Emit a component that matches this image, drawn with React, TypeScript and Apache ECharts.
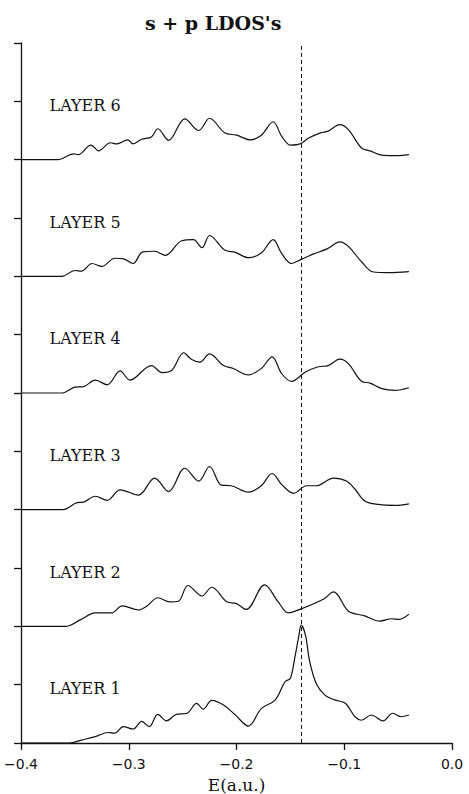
import React, { useEffect, useRef } from "react";
import * as echarts from "echarts";

const xMin = -0.4;
const xMax = 0.0;
const xInterval = 0.1;
const yMax = 12;
const fermiEnergy = -0.14;
const layerNames = ["LAYER 1", "LAYER 2", "LAYER 3", "LAYER 4", "LAYER 5", "LAYER 6"];
const layerOffsets = [0, 2, 4, 6, 8, 10];
const labelE = -0.374;

const layer1: [number, number][] = [
  [-0.4, 0], [-0.355, 0], [-0.344, 0.05], [-0.331, 0.11], [-0.319, 0.18], [-0.313, 0.17],
  [-0.305, 0.28], [-0.296, 0.24], [-0.288, 0.37], [-0.281, 0.28], [-0.273, 0.49], [-0.265, 0.38],
  [-0.256, 0.49], [-0.246, 0.51], [-0.237, 0.68], [-0.231, 0.58], [-0.223, 0.73], [-0.212, 0.65],
  [-0.201, 0.48], [-0.189, 0.29], [-0.177, 0.59], [-0.164, 0.74], [-0.155, 1.05], [-0.15, 1.11],
  [-0.146, 1.45], [-0.142, 1.85], [-0.14, 2.02], [-0.136, 1.85], [-0.132, 1.39], [-0.126, 1.02],
  [-0.118, 0.82], [-0.109, 0.74], [-0.099, 0.68], [-0.09, 0.45], [-0.084, 0.39], [-0.075, 0.48],
  [-0.064, 0.38], [-0.055, 0.51], [-0.047, 0.45], [-0.04, 0.48],
];

const layer2: [number, number][] = [
  [-0.4, 0], [-0.358, 0], [-0.345, 0.11], [-0.331, 0.23], [-0.316, 0.23], [-0.306, 0.35],
  [-0.291, 0.28], [-0.283, 0.35], [-0.273, 0.49], [-0.262, 0.42], [-0.254, 0.43], [-0.245, 0.7],
  [-0.232, 0.52], [-0.223, 0.67], [-0.209, 0.42], [-0.2, 0.39], [-0.191, 0.29], [-0.174, 0.71],
  [-0.161, 0.41], [-0.152, 0.23], [-0.14, 0.3], [-0.119, 0.47], [-0.11, 0.59], [-0.096, 0.26],
  [-0.081, 0.18], [-0.067, 0.09], [-0.056, 0.13], [-0.049, 0.12], [-0.04, 0.21],
];

const layer3: [number, number][] = [
  [-0.4, 0], [-0.361, 0], [-0.348, 0.12], [-0.342, 0.13], [-0.331, 0.23], [-0.32, 0.16],
  [-0.308, 0.34], [-0.291, 0.25], [-0.276, 0.54], [-0.263, 0.31], [-0.248, 0.71], [-0.235, 0.49],
  [-0.225, 0.74], [-0.214, 0.42], [-0.205, 0.41], [-0.189, 0.3], [-0.177, 0.41], [-0.167, 0.62],
  [-0.158, 0.43], [-0.147, 0.28], [-0.135, 0.41], [-0.126, 0.41], [-0.11, 0.54], [-0.098, 0.49],
  [-0.09, 0.35], [-0.081, 0.15], [-0.068, 0.09], [-0.053, 0.074], [-0.04, 0.1],
];

const layer4: [number, number][] = [
  [-0.4, 0], [-0.362, 0], [-0.35, 0.1], [-0.342, 0.11], [-0.331, 0.22], [-0.32, 0.14],
  [-0.308, 0.38], [-0.299, 0.22], [-0.279, 0.47], [-0.269, 0.35], [-0.26, 0.39], [-0.249, 0.69],
  [-0.242, 0.58], [-0.234, 0.53], [-0.225, 0.67], [-0.212, 0.47], [-0.203, 0.42], [-0.189, 0.31],
  [-0.177, 0.42], [-0.167, 0.62], [-0.158, 0.33], [-0.149, 0.2], [-0.136, 0.36], [-0.124, 0.45],
  [-0.115, 0.47], [-0.104, 0.58], [-0.096, 0.5], [-0.084, 0.2], [-0.076, 0.17], [-0.065, 0.074],
  [-0.053, 0.046], [-0.04, 0.09],
];

const layer5: [number, number][] = [
  [-0.4, 0], [-0.362, 0], [-0.35, 0.1], [-0.344, 0.09], [-0.334, 0.22], [-0.325, 0.17],
  [-0.313, 0.31], [-0.305, 0.3], [-0.296, 0.22], [-0.287, 0.42], [-0.276, 0.43], [-0.266, 0.36],
  [-0.251, 0.61], [-0.24, 0.63], [-0.232, 0.49], [-0.225, 0.7], [-0.211, 0.45], [-0.201, 0.41],
  [-0.189, 0.32], [-0.177, 0.4], [-0.166, 0.63], [-0.158, 0.39], [-0.149, 0.22], [-0.14, 0.29],
  [-0.129, 0.38], [-0.116, 0.47], [-0.104, 0.59], [-0.096, 0.51], [-0.084, 0.25], [-0.073, 0.074],
  [-0.059, 0.063], [-0.04, 0.08],
];

const layer6: [number, number][] = [
  [-0.4, 0], [-0.366, 0], [-0.351, 0.1], [-0.347, 0.086], [-0.335, 0.25], [-0.328, 0.15],
  [-0.317, 0.29], [-0.311, 0.27], [-0.301, 0.34], [-0.296, 0.27], [-0.288, 0.35], [-0.279, 0.39],
  [-0.273, 0.53], [-0.263, 0.33], [-0.248, 0.7], [-0.235, 0.5], [-0.225, 0.71], [-0.211, 0.46],
  [-0.2, 0.42], [-0.187, 0.34], [-0.177, 0.42], [-0.166, 0.65], [-0.158, 0.4], [-0.15, 0.25],
  [-0.141, 0.27], [-0.133, 0.37], [-0.122, 0.46], [-0.115, 0.49], [-0.104, 0.6], [-0.096, 0.51],
  [-0.084, 0.2], [-0.076, 0.15], [-0.064, 0.074], [-0.05, 0.07], [-0.04, 0.086],
];

const layers = [layer1, layer2, layer3, layer4, layer5, layer6];

export default function App() {
  const ref = useRef<HTMLDivElement>(null);

  useEffect(() => {
    if (!ref.current) return;
    const chart = echarts.init(ref.current, null, { renderer: "svg" });

    const series: any[] = layers.map((layer, i) => {
      const s: any = {
        type: "line",
        name: layerNames[i],
        data: layer.map(([e, v]) => [e, v + layerOffsets[i]]),
        showSymbol: false,
        smooth: 0.35,
        lineStyle: { color: "#111", width: 1.2 },
        z: 3,
        markPoint: {
          silent: true,
          symbol: "circle",
          symbolSize: 1,
          itemStyle: { color: "rgba(0,0,0,0)" },
          data: [
            {
              coord: [labelE, layerOffsets[i] + 0.93],
              label: {
                show: true,
                position: "right",
                distance: 0,
                formatter: layerNames[i],
                color: "#111",
                fontFamily: "DejaVu Serif",
                fontSize: 16,
              },
            },
          ],
        },
      };
      if (i === 0) {
        s.markLine = {
          silent: true,
          symbol: "none",
          label: { show: false },
          lineStyle: { color: "#111", type: [4, 3], width: 1 },
          data: [{ xAxis: fermiEnergy }],
        };
      }
      return s;
    });

    chart.setOption({
      animation: false,
      backgroundColor: "#fff",
      title: {
        text: "s + p LDOS's",
        left: 145,
        top: 13,
        padding: 0,
        textStyle: {
          fontFamily: "DejaVu Serif",
          fontWeight: "bold",
          fontSize: 19,
          color: "#111",
        },
      },
      grid: { left: 21, right: 17, top: 43, bottom: 51, containLabel: false, outerBoundsMode: "none" },
      xAxis: {
        type: "value",
        min: xMin,
        max: xMax,
        interval: xInterval,
        name: "E(a.u.)",
        nameLocation: "middle",
        nameGap: 33,
        nameTextStyle: { fontFamily: "DejaVu Serif", fontSize: 17, lineHeight: 17, color: "#111" },
        axisLine: { show: true, onZero: false, lineStyle: { color: "#111", width: 1.3 } },
        axisTick: { show: true, inside: false, length: 7, lineStyle: { color: "#111", width: 1.3 } },
        axisLabel: {
          margin: 14,
          fontFamily: "DejaVu Sans",
          fontSize: 14,
          color: "#111",
          formatter: (v: number) => v.toFixed(1).replace("-", "\u2212"),
        },
        splitLine: { show: false },
      },
      yAxis: {
        type: "value",
        position: "left",
        min: 0,
        max: yMax,
        interval: 1,
        axisLine: { show: true, onZero: false, lineStyle: { color: "#111", width: 1.3 } },
        axisTick: { show: true, inside: false, length: 7, lineStyle: { color: "#111", width: 1.3 } },
        axisLabel: { show: false },
        splitLine: { show: false },
      },
      series,
    });

    return () => chart.dispose();
  }, []);

  return (
    <div
      ref={ref}
      style={{ position: "fixed", left: 0, top: 0, width: 469, height: 794, background: "#fff" }}
    />
  );
}
